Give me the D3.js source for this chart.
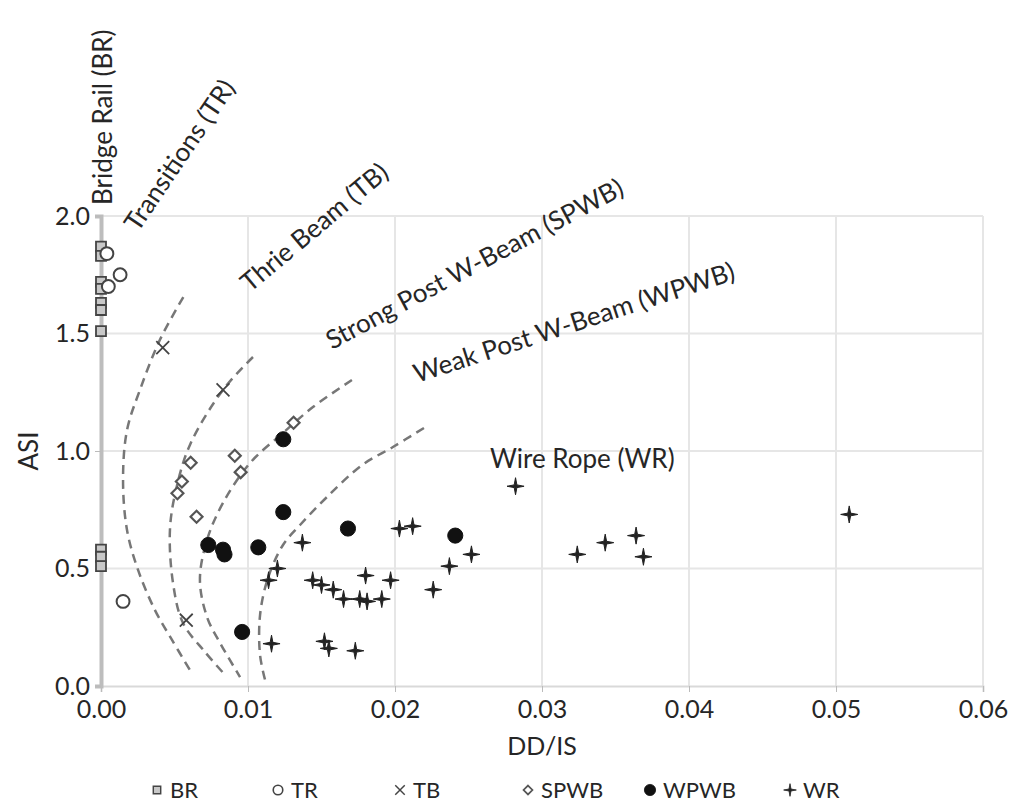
<!DOCTYPE html>
<html>
<head>
<meta charset="utf-8">
<script src="https://cdn.jsdelivr.net/npm/d3@7"></script>
<style>
  body { margin: 0; background: #fff; }
  text { font-family: Lato, "Open Sans", sans-serif; fill: #262626; }
</style>
</head>
<body>
<script>
// data: [DD/IS, ASI]
var seriesNames = ["BR", "TR", "TB", "SPWB", "WPWB", "WR"];

var brPoints = [[0, 1.87], [0, 1.83], [0, 1.72], [0, 1.69], [0, 1.63], [0, 1.60], [0, 1.51],
                [0, 0.58], [0, 0.55], [0, 0.51]];
var trPoints = [[0.0004, 1.84], [0.0005, 1.70], [0.0013, 1.75], [0.0015, 0.36]];
var tbPoints = [[0.0042, 1.44], [0.0083, 1.26], [0.0058, 0.28]];
var spwbPoints = [[0.0061, 0.95], [0.0055, 0.87], [0.0052, 0.82], [0.0065, 0.72],
                  [0.0091, 0.98], [0.0095, 0.91], [0.0131, 1.12]];
var wpwbPoints = [[0.0124, 1.05], [0.0124, 0.74], [0.0168, 0.67], [0.0241, 0.64],
                  [0.0073, 0.60], [0.0083, 0.58], [0.0084, 0.56], [0.0107, 0.59], [0.0096, 0.23]];
var wrPoints = [[0.0137, 0.61], [0.0120, 0.50], [0.0114, 0.45], [0.0144, 0.45], [0.0150, 0.43],
                [0.0158, 0.41], [0.0165, 0.37], [0.0176, 0.37], [0.0180, 0.47], [0.0181, 0.36],
                [0.0191, 0.37], [0.0197, 0.45], [0.0203, 0.67], [0.0212, 0.68], [0.0226, 0.41],
                [0.0237, 0.51], [0.0252, 0.56], [0.0116, 0.18], [0.0152, 0.19], [0.0155, 0.16],
                [0.0173, 0.15], [0.0282, 0.85], [0.0324, 0.56], [0.0343, 0.61], [0.0364, 0.64],
                [0.0369, 0.55], [0.0509, 0.73]];

// dashed boundary curves between barrier types
var boundaryTR = [[0.0056, 1.655], [0.0040, 1.472], [0.00265, 1.26], [0.00177, 1.089], [0.0015, 0.877],
                  [0.00177, 0.664], [0.00252, 0.494], [0.00367, 0.323], [0.00483, 0.196], [0.00605, 0.068]];
var boundaryTB = [[0.01034, 1.40], [0.0083, 1.26], [0.00605, 1.026], [0.0051, 0.834], [0.00469, 0.664],
                  [0.0049, 0.438], [0.00558, 0.268], [0.00707, 0.145], [0.00844, 0.047]];
var boundarySPWB = [[0.01707, 1.302], [0.01442, 1.187], [0.01238, 1.077], [0.01014, 0.949], [0.0083, 0.779],
                    [0.00721, 0.621], [0.00673, 0.451], [0.00721, 0.294], [0.0081, 0.183], [0.00946, 0.038]];
var boundaryWPWB = [[0.02197, 1.098], [0.01986, 1.017], [0.01776, 0.94], [0.01537, 0.804], [0.01354, 0.685],
                    [0.01238, 0.60], [0.01136, 0.46], [0.01082, 0.302], [0.01082, 0.132], [0.01116, 0.026]];

var xTicks = [0, 0.01, 0.02, 0.03, 0.04, 0.05, 0.06];
var yTicks = [0, 0.5, 1.0, 1.5, 2.0];

var regionLabels = [
  {text: "Bridge Rail (BR)", x: 0.00075, y: 2.047, angle: -90},
  {text: "Transitions (TR)", x: 0.00252, y: 1.928, angle: -56},
  {text: "Thrie Beam (TB)", x: 0.01014, y: 1.672, angle: -40},
  {text: "Strong Post W-Beam (SPWB)", x: 0.01571, y: 1.43, angle: -28},
  {text: "Weak Post W-Beam (WPWB)", x: 0.0215, y: 1.289, angle: -18},
  {text: "Wire Rope (WR)", x: 0.02646, y: 0.928, angle: 0}
];

var width = 1025, height = 807;
var margin = {top: 216, right: 42, bottom: 121, left: 101};

var svg = d3.select("body").append("svg")
    .attr("width", width)
    .attr("height", height);

var x = d3.scaleLinear().domain([0, 0.06]).range([margin.left, width - margin.right]);
var y = d3.scaleLinear().domain([0, 2.0]).range([height - margin.bottom, margin.top]);

// gridlines
svg.append("g").selectAll("line").data(xTicks.slice(1)).enter().append("line")
    .attr("x1", d => x(d)).attr("x2", d => x(d))
    .attr("y1", y(0)).attr("y2", y(2.0))
    .attr("stroke", "#e6e6e6").attr("stroke-width", 2);
svg.append("g").selectAll("line").data(yTicks.slice(1)).enter().append("line")
    .attr("x1", x(0)).attr("x2", x(0.06))
    .attr("y1", d => y(d)).attr("y2", d => y(d))
    .attr("stroke", "#e6e6e6").attr("stroke-width", 2);

// x axis
var xAxis = svg.append("g")
    .attr("transform", "translate(0," + y(0) + ")")
    .call(d3.axisBottom(x).tickValues(xTicks).tickFormat(d3.format(".2f")).tickSize(6).tickPadding(8));
xAxis.select(".domain").attr("stroke", "#d9d9d9").attr("stroke-width", 2);
xAxis.selectAll(".tick line").attr("stroke", "#bbb");
xAxis.selectAll("text").style("font-size", "25px").attr("fill", "#262626");

// y axis
var yAxis = svg.append("g")
    .attr("transform", "translate(" + x(0) + ",0)")
    .call(d3.axisLeft(y).tickValues(yTicks).tickFormat(d3.format(".1f")).tickSize(6).tickPadding(5));
yAxis.select(".domain").attr("stroke", "#bdbdbd").attr("stroke-width", 4);
yAxis.selectAll(".tick line").attr("stroke", "#bbb");
yAxis.selectAll("text").style("font-size", "25px").attr("fill", "#262626");

// axis titles
svg.append("text")
    .attr("x", (x(0) + x(0.06)) / 2).attr("y", 755)
    .attr("text-anchor", "middle")
    .style("font-size", "25px")
    .text("DD/IS");
svg.append("text")
    .attr("transform", "translate(38," + y(1.0) + ") rotate(-90)")
    .attr("text-anchor", "middle")
    .style("font-size", "26px")
    .text("ASI");

// dashed boundary curves
var line = d3.line()
    .x(d => x(d[0])).y(d => y(d[1]))
    .curve(d3.curveCatmullRom);
svg.append("g").selectAll("path")
    .data([boundaryTR, boundaryTB, boundarySPWB, boundaryWPWB])
  .enter().append("path")
    .attr("d", line)
    .attr("fill", "none")
    .attr("stroke", "#777")
    .attr("stroke-width", 2.5)
    .attr("stroke-dasharray", "9,6");

// region labels
svg.append("g").selectAll("text").data(regionLabels).enter().append("text")
    .attr("transform", d => "translate(" + x(d.x) + "," + y(d.y) + ") rotate(" + d.angle + ")")
    .style("font-size", "26px")
    .text(d => d.text);

// custom four-point star for WR
var fourStar = {
  draw: function(ctx, size) {
    var r = Math.sqrt(size) * 0.9, w = r * 0.16;
    ctx.moveTo(0, -r);
    ctx.lineTo(w, -w); ctx.lineTo(r, 0); ctx.lineTo(w, w);
    ctx.lineTo(0, r); ctx.lineTo(-w, w); ctx.lineTo(-r, 0); ctx.lineTo(-w, -w);
    ctx.closePath();
  }
};

// square turned 45 degrees, as drawn for SPWB
var squareDiamond = {
  draw: function(ctx, size) {
    var r = Math.sqrt(size) / 1.4;
    ctx.moveTo(0, -r); ctx.lineTo(r, 0); ctx.lineTo(0, r); ctx.lineTo(-r, 0);
    ctx.closePath();
  }
};

var styles = {
  BR:   {type: d3.symbolSquare,  size: 100, fill: "#c8c8c8", stroke: "#444", sw: 1.8},
  TR:   {type: d3.symbolCircle,  size: 130, fill: "#fff", stroke: "#444", sw: 2},
  TB:   {type: d3.symbolTimes,   size: 110, fill: "none", stroke: "#444", sw: 1.8},
  SPWB: {type: squareDiamond,    size: 70,  fill: "#fff", stroke: "#555", sw: 2.2},
  WPWB: {type: d3.symbolCircle,  size: 180, fill: "#111", stroke: "#111", sw: 1},
  WR:   {type: fourStar,         size: 90,  fill: "#222", stroke: "#222", sw: 1}
};

var allSeries = [brPoints, trPoints, tbPoints, spwbPoints, wpwbPoints, wrPoints];

allSeries.forEach(function(pts, i) {
  var st = styles[seriesNames[i]];
  svg.append("g").selectAll("path").data(pts).enter().append("path")
      .attr("transform", d => "translate(" + x(d[0]) + "," + y(d[1]) + ")")
      .attr("d", d3.symbol().type(st.type).size(st.size))
      .attr("fill", st.fill)
      .attr("stroke", st.stroke)
      .attr("stroke-width", st.sw);
});

// legend
var legendX = [157, 278, 400, 528, 650, 790];
var legend = svg.append("g").selectAll("g").data(seriesNames).enter().append("g")
    .attr("transform", (d, i) => "translate(" + legendX[i] + ",790)");
legend.append("path")
    .attr("d", d => d3.symbol().type(styles[d].type).size(styles[d].size * 0.55)())
    .attr("fill", d => styles[d].fill)
    .attr("stroke", d => styles[d].stroke)
    .attr("stroke-width", d => styles[d].sw * 0.8);
legend.append("text")
    .attr("x", 13).attr("dy", "0.35em")
    .style("font-size", "22px")
    .text(d => d);
</script>
</body>
</html>
